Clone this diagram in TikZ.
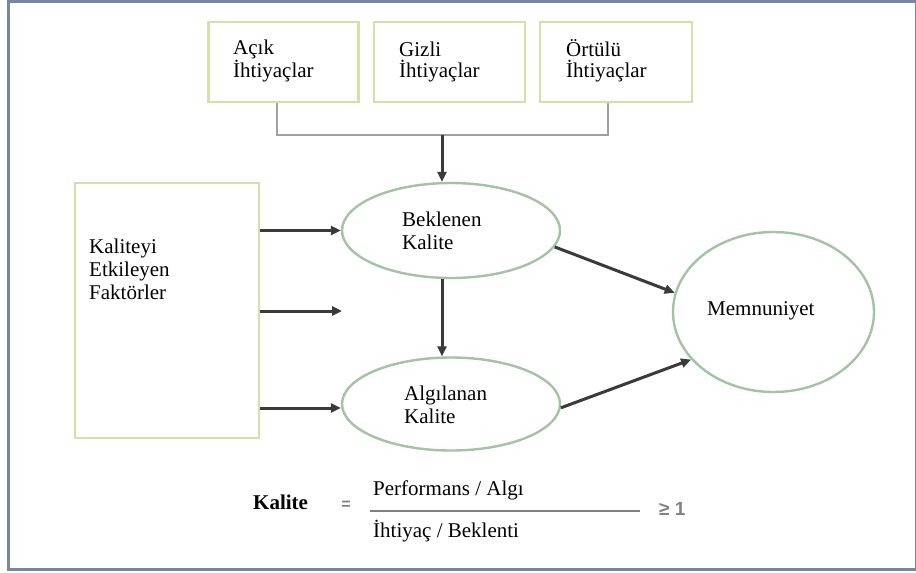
\documentclass[tikz,border=0pt]{standalone}
\usepackage{fontspec}
\setmainfont{Liberation Serif}
\newfontfamily\arialfont{Liberation Sans}
\usetikzlibrary{arrows.meta,shapes.geometric}
\definecolor{boxgreen}{HTML}{D3E0A6}
\definecolor{ellgreen}{HTML}{A3C3A3}
\definecolor{framec}{HTML}{7488A4}
\definecolor{arrowc}{HTML}{3A3A3A}
\definecolor{bracketc}{HTML}{A0A0A0}
\tikzset{
  box/.style={draw=boxgreen,line width=2.6pt,rectangle,inner sep=0pt},
  ell/.style={draw=ellgreen,line width=2.4pt,ellipse,inner sep=0pt},
  txt/.style={inner sep=0pt,align=left,font=\fontsize{21}{21}\selectfont},
  arr/.style={draw=arrowc,line width=3pt,-{Triangle[length=10pt,width=9pt]}},
  bracket/.style={draw=bracketc,line width=2.4pt}
}
\begin{document}
\begin{tikzpicture}[x=1pt,y=-1pt]
\useasboundingbox (0,0) rectangle (916,573);
\fill[white] (0,0) rectangle (916,573);
\draw[framec,line width=3pt] (8,1.5) rectangle (916,569.5);
% top boxes
\node[box,minimum width=150pt,minimum height=80pt] (acik) at (283.5,62) {};
\node[box,minimum width=151pt,minimum height=80pt] (gizli) at (449.5,62) {};
\node[box,minimum width=152pt,minimum height=80pt] (ortulu) at (616,62) {};
\node[txt,anchor=base west] (t1) at (233,77) {Açık\\İhtiyaçlar};
\node[txt,anchor=base west] (t2) at (399,77) {Gizli\\İhtiyaçlar};
\node[txt,anchor=base west] (t3) at (566,77) {Örtülü\\İhtiyaçlar};
% left box
\node[box,minimum width=184pt,minimum height=255pt] (kal) at (167,310.5) {};
\node[txt,anchor=base west,font=\fontsize{21}{23}\selectfont] (t4) at (89,299) {Kaliteyi\\Etkileyen\\Faktörler};
% ellipses
\node[ell,minimum width=218pt,minimum height=95pt] (bek) at (451,230.5) {};
\node[ell,minimum width=218pt,minimum height=93pt] (alg) at (451,404) {};
\node[ell,minimum width=201pt,minimum height=160pt] (mem) at (773.5,312) {};
\node[txt,anchor=base west,font=\fontsize{21}{22.5}\selectfont] (t5) at (402,249) {Beklenen\\Kalite};
\node[txt,anchor=base west,font=\fontsize{21}{23}\selectfont] (t6) at (404,423) {Algılanan\\Kalite};
\node[txt,anchor=base west] (t7) at (707,315) {Memnuniyet};
% bracket
\coordinate (j) at (442,135);
\draw[bracket] ([xshift=-6.5pt]acik.south) |- (j) -| ([xshift=-8pt]ortulu.south);
\draw[arr] (j) -- (j |- bek.north);
% left arrows
\coordinate (mid) at (342,311);
\draw[arr] (kal.east |- bek.west) -- (bek.west);
\draw[arr] (kal.east |- mid) -- (mid);
\draw[arr] (kal.east |- 0,408) -- (alg.west |- 0,408);
% vertical
\draw[arr] ([xshift=-9pt]bek.south) -- ([xshift=-9pt]alg.north);
% to memnuniyet
\draw[arr] (bek.-9) -- (mem.169);
\draw[arr] (alg.-2) -- (mem.210);
% formula
\node[txt,anchor=base west,font=\fontsize{21}{22}\selectfont\bfseries] (k) at (253,509) {Kalite};
\node[inner sep=0pt,anchor=base,font=\arialfont\bfseries\fontsize{16}{18}\selectfont,text=gray] (eq) at (346,509) {=};
\node[txt,anchor=base west] (num) at (373,495) {Performans / Algı};
\node[txt,anchor=base west] (den) at (373,537) {İhtiyaç / Beklenti};
\coordinate (fl) at (370,511);
\coordinate (fr) at (640,511);
\draw[gray,line width=1.8pt] (fl) -- (fr);
\node[inner sep=0pt,anchor=base west,font=\arialfont\bfseries\fontsize{19}{20}\selectfont,text=gray] (ge) at (659,515) {≥ 1};
\end{tikzpicture}
\end{document}
